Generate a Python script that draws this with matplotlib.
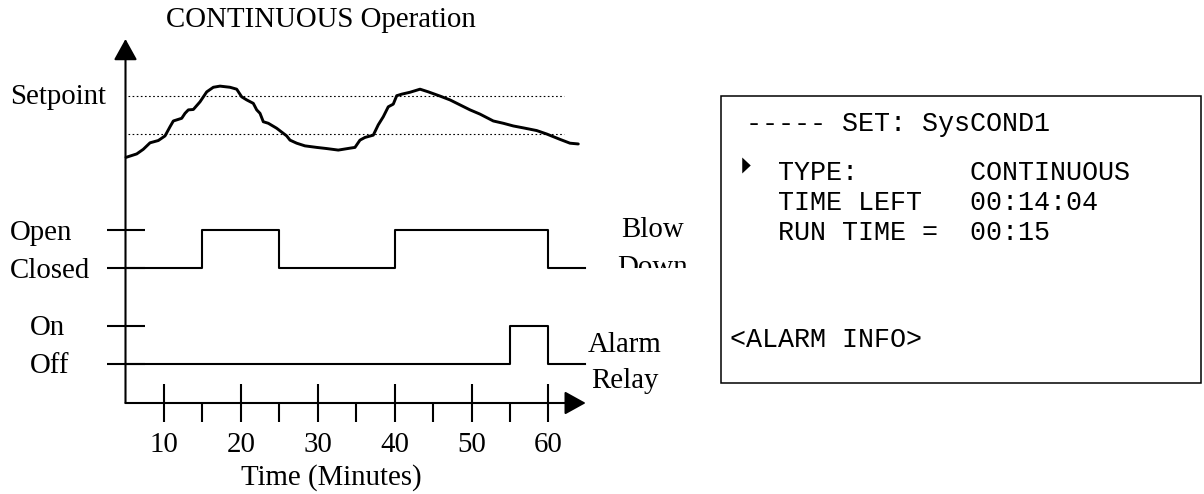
import matplotlib
matplotlib.use("Agg")
import matplotlib.pyplot as plt
from matplotlib.patches import Rectangle

# ---------------- data ----------------
# conductivity trace (arbitrary units, setpoint = 100, lower band = 90)
time_min = [5.07, 6.46, 7.31, 8.19, 9.27, 10.14, 10.79, 11.22, 12.31, 12.74,
            13.17, 13.82, 14.69, 15.56, 16.42, 17.29, 18.59, 19.46, 20.11, 20.76,
            21.62, 22.06, 22.49, 22.92, 23.57, 24.66, 25.96, 26.39, 27.26, 28.34,
            29.86, 31.16, 32.67, 34.19, 34.84, 35.49, 36.14, 37.22, 37.87, 38.52,
            39.17, 39.82, 40.27, 40.92, 42.0, 43.3, 44.38, 45.9, 47.2, 48.5,
            49.8, 51.09, 52.83, 54.13, 55.43, 56.73, 58.47, 59.77, 61.5, 62.8, 63.88]
level = [83.9, 84.8, 86.0, 87.7, 88.3, 89.5, 91.9, 93.4, 94.1, 95.4,
         96.3, 96.4, 98.4, 101.0, 102.2, 102.5, 102.2, 101.7, 99.7, 98.9,
         98.0, 96.3, 95.4, 93.2, 92.8, 91.5, 89.5, 88.4, 87.6, 86.9,
         86.5, 86.2, 85.8, 86.3, 86.5, 88.4, 89.1, 89.7, 92.4, 94.5,
         97.1, 97.8, 100.0, 100.4, 100.9, 101.7, 101.0, 99.9, 98.9, 97.6,
         96.3, 95.2, 93.4, 92.8, 92.1, 91.6, 90.9, 90.0, 88.6, 87.6, 87.4]
setpoint_level = 100
band_level = 90
ref_line_span = [5.3, 62.0]

# blow-down valve (0 = Closed, 1 = Open), step changes
blowdown_t = [5, 15, 25, 40, 60, 64.8]
blowdown_state = [0, 1, 0, 1, 0, 0]
# alarm relay (0 = Off, 1 = On)
alarm_t = [5, 55, 60, 64.8]
alarm_state = [0, 1, 0, 0]

major_ticks = [10, 20, 30, 40, 50, 60]
minor_ticks = [15, 25, 35, 45, 55]
tick_labels = ["10", "20", "30", "40", "50", "60"]

title = "CONTINUOUS Operation"
xlabel = "Time (Minutes)"
box_header = " ----- SET: SysCOND1"
box_fields = ["TYPE:", "TIME LEFT", "RUN TIME ="]
box_values = ["CONTINUOUS", "00:14:04", "00:15"]
box_footer = "<ALARM INFO>"

# ---------------- layout ----------------
W, H, DPI = 1204, 494, 100
PX_PER_MIN = 7.69
T_ORIGIN, X_ORIGIN = 5.0, 125.5
T0 = T_ORIGIN - X_ORIGIN / PX_PER_MIN
T1 = T_ORIGIN + (W - X_ORIGIN) / PX_PER_MIN
X_AXIS_ROW = 403
T_END = 64.85
SERIF = "Liberation Serif"
MONO = "Liberation Mono"
FS = 20.8
LW = 1.5

fig = plt.figure(figsize=(W / DPI, H / DPI), dpi=DPI)
fig.patch.set_facecolor("white")

lay = fig.add_axes([0, 0, 1, 1])
lay.set_xlim(0, W)
lay.set_ylim(H, 0)
lay.axis("off")


def band(top, bot, ylim):
    ax = fig.add_axes([0, 1 - bot / H, 1, (bot - top) / H])
    ax.set_xlim(T0, T1)
    ax.set_ylim(*ylim)
    ax.axis("off")
    ax.patch.set_alpha(0)
    return ax


# time axis
ax_t = fig.add_axes([0, 0, 1, 1])
ax_t.set_xlim(T0, T1)
ax_t.set_ylim(H, 0)
ax_t.patch.set_alpha(0)
for s in ["left", "right", "top", "bottom"]:
    ax_t.spines[s].set_visible(False)
ax_t.spines["bottom"].set_position(("data", X_AXIS_ROW))
ax_t.set_yticks([])
ax_t.set_xticks(major_ticks)
ax_t.set_xticklabels(tick_labels, fontfamily=SERIF, fontsize=FS)
ax_t.set_xticks(minor_ticks, minor=True)
ax_t.tick_params(axis="x", which="major", direction="inout", length=28, width=LW, pad=7.2)
ax_t.tick_params(axis="x", which="minor", direction="out", length=14, width=LW)

arrow = dict(arrowstyle="-|>,head_length=0.65,head_width=0.36", mutation_scale=20,
             lw=LW, color="black", shrinkA=0, shrinkB=0)
ax_t.annotate("", xy=(T_END, X_AXIS_ROW), xytext=(T_ORIGIN, X_AXIS_ROW), arrowprops=arrow)
ax_t.annotate("", xy=(T_ORIGIN, 39), xytext=(T_ORIGIN, X_AXIS_ROW), arrowprops=arrow)

# conductivity band
ax_c = band(76.55, 172.3, (80, 105))
ax_c.hlines([setpoint_level, band_level], ref_line_span[0], ref_line_span[1],
            colors="black", lw=0.8, linestyles=[(0, (1.5, 2.2))])
ax_c.plot(time_min, level, color="black", lw=2.1, solid_joinstyle="round",
          solid_capstyle="round", clip_on=False)

# blow-down band
mark_span = [2.6, 7.55]
ax_b = band(230, 268, (0, 1))
ax_b.hlines([0, 1], mark_span[0], mark_span[1], colors="black", lw=LW, clip_on=False)
ax_b.plot(blowdown_t, blowdown_state, drawstyle="steps-post", color="black", lw=LW, clip_on=False)

# alarm band
ax_a = band(326, 364, (0, 1))
ax_a.hlines([0, 1], mark_span[0], mark_span[1], colors="black", lw=LW, clip_on=False)
ax_a.plot(alarm_t, alarm_state, drawstyle="steps-post", color="black", lw=LW, clip_on=False)

# texts
txt = dict(fontfamily=SERIF, fontsize=FS, color="black", va="baseline")
lay.text(321, 27, title, ha="center", **txt)
lay.text(331, 485, xlabel, ha="center", **txt)
lay.text(10, 104, "Setpoint", ha="left", **txt)
lay.text(10, 240, "Open", ha="left", **txt)
lay.text(10, 278, "Closed", ha="left", **txt)
lay.text(30, 335, "On", ha="left", **txt)
lay.text(30, 373, "Off", ha="left", **txt)
lay.text(652.7, 236.5, "Blow", ha="center", **txt)
ax_b.text(652.7, 274.5, "Down", ha="center", transform=lay.transData, clip_on=True, **txt)
lay.text(624.5, 351.5, "Alarm", ha="center", **txt)
lay.text(625, 388, "Relay", ha="center", **txt)

# settings panel
lay.add_patch(Rectangle((720.7, 95.7), 480, 287.6, fill=False, lw=1.1, ec="black"))
box_lines = [box_header] + [f"   {f:<12}{v}" for f, v in zip(box_fields, box_values)] + [box_footer]
box_baselines = [130.8, 180, 210, 239.5, 346.7]
for line, yb in zip(box_lines, box_baselines):
    lay.text(730, yb, line, fontfamily=MONO, fontsize=19.25, va="baseline", ha="left", color="black")
lay.plot([745.8], [165.5], marker=[(-4, -7.5), (4, 0), (-4, 7.5)], markersize=11.5,
         color="black", markeredgewidth=0)

fig.savefig("out.png", dpi=DPI, facecolor="white")
